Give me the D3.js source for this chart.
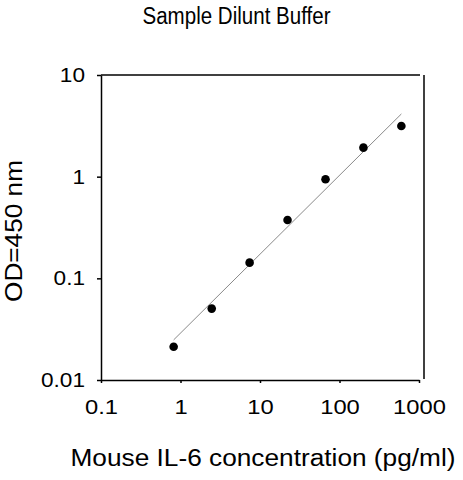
<!DOCTYPE html>
<html><head><meta charset="utf-8">
<script src="https://cdn.jsdelivr.net/npm/d3@7"></script>
<style>body{margin:0;background:#fff}svg{display:block}text{font-family:"Liberation Sans",Arial,sans-serif;fill:#000}</style>
</head><body><svg id="c" width="463" height="480"></svg>
<script>
const title = "Sample Dilunt Buffer";
const xTitle = "Mouse IL-6 concentration (pg/ml)";
const yTitle = "OD=450 nm";
const conc = [0.82, 2.47, 7.4, 22.2, 66.7, 200, 600];
const od = [0.0212, 0.0504, 0.1426, 0.375, 0.942, 1.93, 3.15];
const fitX = [0.82, 600];
const fitY = [0.0248, 4.14];
const xTicks = [0.1, 1, 10, 100, 1000];
const xTickLabels = ["0.1", "1", "10", "100", "1000"];
const yTicks = [0.01, 0.1, 1, 10];
const yTickLabels = ["0.01", "0.1", "1", "10"];

const svg = d3.select("#c");
const x = d3.scaleLog().domain([0.1, 1000]).range([101, 419]);
const y = d3.scaleLog().domain([0.01, 10]).range([380, 75]);

// axes
const xa = svg.append("g").attr("transform", `translate(0,${y(0.01)})`)
  .call(d3.axisBottom(x).tickValues(xTicks).tickFormat((d,i)=>xTickLabels[i]).tickSizeInner(3).tickSizeOuter(0).tickPadding(16));
const ya = svg.append("g").attr("transform", `translate(${x(0.1)},0)`)
  .call(d3.axisLeft(y).tickValues(yTicks).tickFormat((d,i)=>yTickLabels[i]).tickSizeInner(4).tickSizeOuter(0).tickPadding(12));
svg.selectAll(".domain, .tick line").attr("stroke", "#000").attr("stroke-width", 1.5);
xa.attr("font-size", 21).selectAll("text").attr("font-size", 21);
ya.attr("font-size", 20).selectAll("text").attr("font-size", 20);
svg.selectAll(".tick text").each(function() {
  const w = this.getComputedTextLength();
  d3.select(this).attr("textLength", w * 1.13).attr("lengthAdjust", "spacingAndGlyphs");
});

// frame
svg.append("line").attr("x1", x(0.1)).attr("x2", x(1000) + 1).attr("y1", y(10)).attr("y2", y(10))
  .attr("stroke", "#000").attr("stroke-width", 1.5);
svg.append("line").attr("x1", x(1000) + 5).attr("x2", x(1000) + 5).attr("y1", y(10)).attr("y2", y(0.01) - 1)
  .attr("stroke", "#000").attr("stroke-width", 1.5);

// fit line
svg.append("line").attr("x1", x(fitX[0])).attr("y1", y(fitY[0])).attr("x2", x(fitX[1])).attr("y2", y(fitY[1]))
  .attr("stroke", "#8a8a8a").attr("stroke-width", 1);

// points
svg.append("g").selectAll("circle").data(conc).join("circle")
  .attr("cx", d => x(d)).attr("cy", (d,i) => y(od[i])).attr("r", 4.3).attr("fill", "#000");

// titles
svg.append("text").attr("x", 236.5).attr("y", 24).attr("text-anchor", "middle").attr("font-size", 23)
  .attr("textLength", 188).attr("lengthAdjust", "spacingAndGlyphs").text(title);
svg.append("text").attr("x", 263).attr("y", 466).attr("text-anchor", "middle").attr("font-size", 23)
  .attr("textLength", 385).attr("lengthAdjust", "spacingAndGlyphs").text(xTitle);
svg.append("text").attr("transform", "translate(22,231) rotate(-90)").attr("text-anchor", "middle").attr("font-size", 23)
  .attr("textLength", 142).attr("lengthAdjust", "spacingAndGlyphs").text(yTitle);
</script></body></html>
